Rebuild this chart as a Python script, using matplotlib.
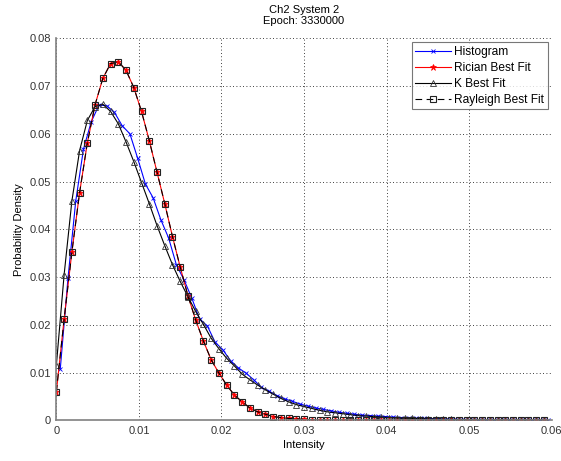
import matplotlib
matplotlib.use("Agg")
import matplotlib.pyplot as plt

plt.rcParams['font.family'] = ['Liberation Sans', 'DejaVu Sans']

# Fit evaluation points (intensity) and histogram bin centres
intensity_fit = [0.0, 0.0009375, 0.001875, 0.0028125, 0.00375, 0.0046875, 0.005625, 0.0065625,
                 0.0075, 0.0084375, 0.009375, 0.0103125, 0.01125, 0.0121875, 0.013125, 0.0140625,
                 0.015, 0.0159375, 0.016875, 0.0178125, 0.01875, 0.0196875, 0.020625, 0.0215625,
                 0.0225, 0.0234375, 0.024375, 0.0253125, 0.02625, 0.0271875, 0.028125, 0.0290625,
                 0.03, 0.0309375, 0.031875, 0.0328125, 0.03375, 0.0346875, 0.035625, 0.0365625,
                 0.0375, 0.0384375, 0.039375, 0.0403125, 0.04125, 0.0421875, 0.043125, 0.0440625,
                 0.045, 0.0459375, 0.046875, 0.0478125, 0.04875, 0.0496875, 0.050625, 0.0515625,
                 0.0525, 0.0534375, 0.054375, 0.0553125, 0.05625, 0.0571875, 0.058125, 0.0590625]
intensity_hist = [0.00046875, 0.00140625, 0.00234375, 0.00328125, 0.00421875, 0.00515625, 0.00609375,
                  0.00703125, 0.00796875, 0.00890625, 0.00984375, 0.01078125, 0.01171875, 0.01265625,
                  0.01359375, 0.01453125, 0.01546875, 0.01640625, 0.01734375, 0.01828125, 0.01921875,
                  0.02015625, 0.02109375, 0.02203125, 0.02296875, 0.02390625, 0.02484375, 0.02578125,
                  0.02671875, 0.02765625, 0.02859375, 0.02953125, 0.03046875, 0.03140625, 0.03234375,
                  0.03328125, 0.03421875, 0.03515625, 0.03609375, 0.03703125, 0.03796875, 0.03890625,
                  0.03984375, 0.04078125, 0.04171875, 0.04265625, 0.04359375, 0.04453125, 0.04546875,
                  0.04640625, 0.04734375, 0.04828125, 0.04921875, 0.05015625, 0.05109375, 0.05203125,
                  0.05296875, 0.05390625, 0.05484375, 0.05578125, 0.05671875, 0.05765625, 0.05859375,
                  0.05953125]

histogram = [0.0107, 0.0298, 0.0459, 0.0568, 0.0625, 0.0660, 0.0659, 0.0645, 0.0617, 0.0600,
             0.0549, 0.0495, 0.0466, 0.0420, 0.0382, 0.0326, 0.0294, 0.0256, 0.0212, 0.0198,
             0.0164, 0.0148, 0.0125, 0.0110, 0.0099, 0.0085, 0.0069, 0.0061, 0.0052, 0.0045,
             0.0040, 0.0034, 0.0030, 0.0026, 0.0023, 0.0020, 0.0017, 0.0015, 0.0013, 0.0011,
             0.0010, 0.0009, 0.0008, 0.0007, 0.0006, 0.0005, 0.00045, 0.0004, 0.00035, 0.0003,
             0.00027, 0.00024, 0.0002, 0.00018, 0.00016, 0.00015, 0.00013, 0.00012, 0.00011, 0.0001,
             0.0001, 0.00009, 0.00008, 0.00008]

rician = [0.0060, 0.0212, 0.0352, 0.0477, 0.0581, 0.0661, 0.0716, 0.0747, 0.0751, 0.0733,
          0.0697, 0.0647, 0.0586, 0.0520, 0.0454, 0.0385, 0.0321, 0.0261, 0.0210, 0.0166,
          0.0127, 0.0099, 0.0074, 0.0053, 0.0039, 0.0026, 0.0018, 0.0013, 0.0008, 0.0006,
          0.0004, 0.0003, 0.0002, 0.0001, 0.0001, 0.0, 0.0, 0.0, 0.0, 0.0,
          0.0, 0.0, 0.0, 0.0, 0.0, 0.0, 0.0, 0.0, 0.0, 0.0,
          0.0, 0.0, 0.0, 0.0, 0.0, 0.0, 0.0, 0.0, 0.0, 0.0,
          0.0, 0.0, 0.0, 0.0]

k_fit = [0.0116, 0.0305, 0.0459, 0.0565, 0.0628, 0.0657, 0.0662, 0.0647, 0.0621, 0.0583,
         0.0542, 0.0498, 0.0454, 0.0408, 0.0366, 0.0326, 0.0291, 0.0259, 0.0228, 0.0201,
         0.0172, 0.0150, 0.0130, 0.0114, 0.0097, 0.0085, 0.0074, 0.0064, 0.0055, 0.0046,
         0.0039, 0.0033, 0.0029, 0.0025, 0.0021, 0.0018, 0.0016, 0.0014, 0.0012, 0.0010,
         0.0009, 0.0008, 0.0007, 0.0006, 0.0005, 0.00045, 0.0004, 0.00035, 0.0003, 0.00027,
         0.00024, 0.0002, 0.00018, 0.00016, 0.00014, 0.00013, 0.00012, 0.00011, 0.0001, 0.00009,
         0.00008, 0.00008, 0.00007, 0.00007]

rayleigh = list(rician)

xticks = [0, 0.01, 0.02, 0.03, 0.04, 0.05, 0.06]
xticklabels = ['0', '0.01', '0.02', '0.03', '0.04', '0.05', '0.06']
yticks = [0, 0.01, 0.02, 0.03, 0.04, 0.05, 0.06, 0.07, 0.08]
yticklabels = ['0', '0.01', '0.02', '0.03', '0.04', '0.05', '0.06', '0.07', '0.08']

fig = plt.figure(figsize=(5.61, 4.61), dpi=100)
ax = fig.add_axes([0.1005, 0.0881, 0.8829, 0.8288])

ax.plot(intensity_hist, histogram, color='#0000ff', lw=0.8, marker='x', ms=3.5, mew=0.6,
        label='Histogram')
ax.plot(intensity_fit, rician, color='#ff0000', lw=0.8, marker='*', ms=5, mew=0.5,
        label='Rician Best Fit')
ax.plot(intensity_fit, k_fit, color='black', lw=0.8, marker='^', ms=4, mew=0.6,
        mfc='none', mec='#333333', label='K Best Fit')
ax.plot(intensity_fit, rayleigh, color='black', lw=0.8, ls=(0, (6, 4)), marker='s', ms=5,
        mew=0.8, mfc='none', mec='#222222', label='Rayleigh Best Fit')

ax.set_xlim(0, 0.06)
ax.set_ylim(0, 0.08)
ax.set_xticks(xticks)
ax.set_xticklabels(xticklabels)
ax.set_yticks(yticks)
ax.set_yticklabels(yticklabels)
ax.tick_params(direction='in', length=0, labelsize=8, colors='#333333', pad=4)
ax.grid(True, ls=(0, (1, 3)), color='black', lw=0.6)

for s in ['top', 'right']:
    ax.spines[s].set_visible(False)
for s in ['left', 'bottom']:
    ax.spines[s].set_color('#808080')
    ax.spines[s].set_linewidth(1.2)

ax.set_xlabel('Intensity', fontsize=8, labelpad=3)
ax.set_ylabel('Probability Density', fontsize=8, labelpad=4)
ax.set_title('Ch2 System 2\nEpoch: 3330000', fontsize=8, linespacing=1.15, pad=10)

leg = ax.legend(loc='upper right', fontsize=8.6, frameon=True, fancybox=False,
                edgecolor='#555555', borderpad=0.3, handlelength=3.0, labelspacing=0.33,
                handletextpad=0.25, borderaxespad=0.35)
leg.get_frame().set_linewidth(0.8)

fig.savefig('out.png', dpi=100)
